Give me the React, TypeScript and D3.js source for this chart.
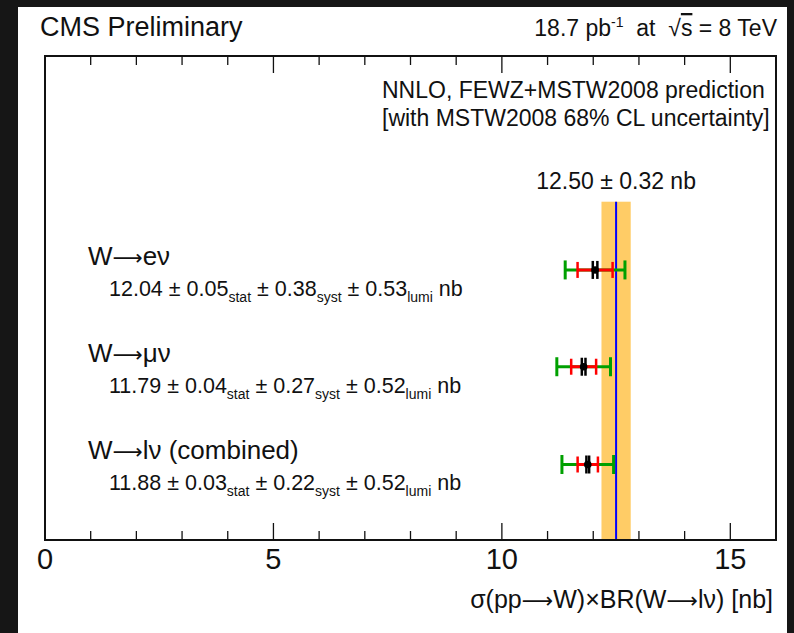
import React from "react";
import * as d3 from "d3";

const channels = [
  ["W", "e\u03bd"],
  ["W", "\u03bc\u03bd"],
  ["W", "l\u03bd (combined)"],
];
const xsec = [12.04, 11.79, 11.88];
const statErr = [0.05, 0.04, 0.03];
const systErr = [0.38, 0.27, 0.22];
const lumiErr = [0.53, 0.52, 0.52];
const rowPos = [2.79, 1.79, 0.78];
const theoryValue = 12.5;
const theoryErr = 0.32;
const majorTicks = [0, 5, 10, 15];
const minorTicks = d3.range(0, 17, 1);

const W = 794;
const H = 633;
const FONT = "'Liberation Sans', Arial, Helvetica, sans-serif";
const ARROW = "\u27f6";
const ARROW_FONT = "'DejaVu Sans', sans-serif";

function Arrow({ size }: { size: number }) {
  return (
    <tspan fontFamily={ARROW_FONT} fontSize={size}>
      {ARROW}
    </tspan>
  );
}

export default function App() {
  const x = d3.scaleLinear().domain([0, 16]).range([45, 776]);
  const y = d3.scaleLinear().domain([0, 5]).range([540, 56]);
  const [x0, x1] = x.range();
  const [yb, yt] = y.range();

  const rows = channels.map((name, i) => {
    const tot = Math.sqrt(statErr[i] ** 2 + systErr[i] ** 2 + lumiErr[i] ** 2);
    const ss = Math.sqrt(statErr[i] ** 2 + systErr[i] ** 2);
    return { name, v: xsec[i], stat: statErr[i], syst: systErr[i], lumi: lumiErr[i], tot, ss, py: y(rowPos[i]) };
  });

  const subSize = 14;
  const numSize = 21.5;

  return (
    <svg
      width={W}
      height={H}
      style={{ position: "absolute", left: 0, top: 0, display: "block" }}
      fontFamily={FONT}
    >
      <rect x={0} y={0} width={W} height={H} fill="#161616" />
      <rect x={18} y={7} width={769} height={H - 7} fill="#ffffff" />

      <text x={40} y={36} fontSize={27} fill="#111">CMS Preliminary</text>
      <text x={777} y={36} fontSize={23} textAnchor="end" fill="#111">
        <tspan>18.7 pb</tspan>
        <tspan fontSize={14} dy={-9}>-1</tspan>
        <tspan dy={9}>{"\u00a0\u00a0at\u00a0\u00a0\u221a"}</tspan>
        <tspan style={{ textDecoration: "overline" }}>s</tspan>
        <tspan>{" = 8 TeV"}</tspan>
      </text>

      {/* theory band */}
      <rect
        x={x(theoryValue - theoryErr)}
        y={201.7}
        width={x(theoryValue + theoryErr) - x(theoryValue - theoryErr)}
        height={yb - 201.7}
        fill="#ffcc66"
      />
      <line x1={x(theoryValue)} x2={x(theoryValue)} y1={201.7} y2={yb} stroke="#0000ff" strokeWidth={2} />

      <text x={382} y={98} fontSize={23} fill="#111">NNLO, FEWZ+MSTW2008 prediction</text>
      <text x={382} y={126} fontSize={23} fill="#111">[with MSTW2008 68% CL uncertainty]</text>
      <text x={x(theoryValue)} y={188.5} fontSize={23} textAnchor="middle" fill="#111">
        {theoryValue.toFixed(2)} {"\u00b1"} {theoryErr.toFixed(2)} nb
      </text>

      {rows.map((r, i) => (
        <g key={i}>
          <text x={88} y={r.py - 5} fontSize={26} fill="#111">
            <tspan>{r.name[0]}</tspan>
            <Arrow size={21} />
            <tspan>{r.name[1]}</tspan>
          </text>
          <text x={109} y={r.py + 26} fontSize={numSize} fill="#111">
            <tspan>{r.v.toFixed(2)} {"\u00b1"} {r.stat.toFixed(2)}</tspan>
            <tspan fontSize={subSize} dy={6}>stat</tspan>
            <tspan dy={-6}> {"\u00b1"} {r.syst.toFixed(2)}</tspan>
            <tspan fontSize={subSize} dy={6}>syst</tspan>
            <tspan dy={-6}> {"\u00b1"} {r.lumi.toFixed(2)}</tspan>
            <tspan fontSize={subSize} dy={6}>lumi</tspan>
            <tspan dy={-6}> nb</tspan>
          </text>
          {/* total error: green */}
          <line x1={x(r.v - r.tot)} x2={x(r.v + r.tot)} y1={r.py} y2={r.py} stroke="#00a000" strokeWidth={3} />
          {[r.v - r.tot, r.v + r.tot].map((e, k) => (
            <line key={"g" + k} x1={x(e)} x2={x(e)} y1={r.py - 9.5} y2={r.py + 9.5} stroke="#00a000" strokeWidth={3} />
          ))}
          {/* stat+syst: red */}
          <line x1={x(r.v - r.ss)} x2={x(r.v + r.ss)} y1={r.py} y2={r.py} stroke="#ff0000" strokeWidth={3} />
          {[r.v - r.ss, r.v + r.ss].map((e, k) => (
            <line key={"r" + k} x1={x(e)} x2={x(e)} y1={r.py - 8} y2={r.py + 8} stroke="#ff0000" strokeWidth={2.5} />
          ))}
          {/* stat: black */}
          <line x1={x(r.v - r.stat)} x2={x(r.v + r.stat)} y1={r.py} y2={r.py} stroke="#000" strokeWidth={3} />
          {[r.v - r.stat, r.v + r.stat].map((e, k) => (
            <line key={"b" + k} x1={x(e)} x2={x(e)} y1={r.py - 9} y2={r.py + 9} stroke="#000" strokeWidth={2.5} />
          ))}
          <circle cx={x(r.v)} cy={r.py} r={3.8} fill="#000" />
        </g>
      ))}

      {/* ticks */}
      {minorTicks.map((t) => {
        const major = majorTicks.includes(t);
        const len = major ? 17 : 9;
        return (
          <g key={t}>
            <line x1={x(t)} x2={x(t)} y1={yb} y2={yb - len} stroke="#111" strokeWidth={1.3} />
            <line x1={x(t)} x2={x(t)} y1={yt} y2={yt + len} stroke="#111" strokeWidth={1.3} />
          </g>
        );
      })}
      <rect x={x0} y={yt} width={x1 - x0} height={yb - yt} fill="none" stroke="#111" strokeWidth={2} />

      {majorTicks.map((t) => (
        <text key={t} x={x(t)} y={569} fontSize={29} textAnchor="middle" fill="#111">{t}</text>
      ))}
      <text x={773} y={608} fontSize={25} textAnchor="end" fill="#111">
        <tspan>{"\u03c3(pp"}</tspan>
        <Arrow size={22} />
        <tspan>{"W)\u00d7BR(W"}</tspan>
        <Arrow size={22} />
        <tspan>{"l\u03bd) [nb]"}</tspan>
      </text>
    </svg>
  );
}
